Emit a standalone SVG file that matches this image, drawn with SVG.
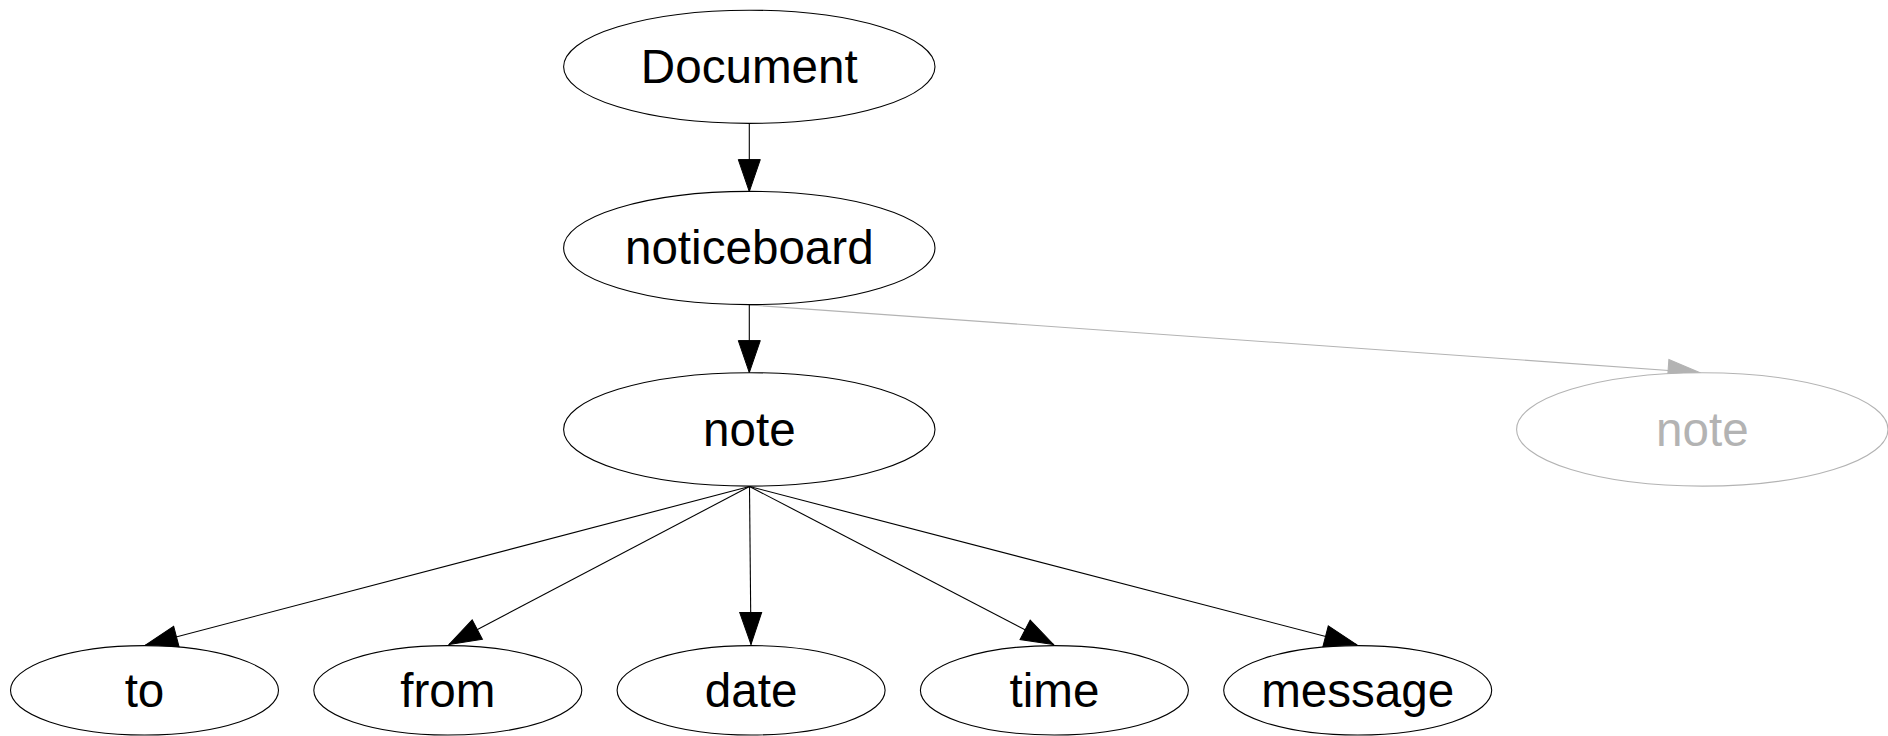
<svg xmlns="http://www.w3.org/2000/svg" width="1888" height="736" viewBox="0 0 1888 736">
<style>
.node ellipse{fill:#fff;stroke:#000;stroke-width:1.1}
.node text{font-family:"Liberation Sans",Arial,sans-serif;font-size:47.6px;text-anchor:middle;fill:#000}
.ghost ellipse{stroke:#b3b3b3}
.ghost text{fill:#b3b3b3}
.edge{fill:none;stroke:#000;stroke-width:1.1}
.edge.g{stroke:#b3b3b3}
</style>
<defs>
<marker id="ah" markerUnits="userSpaceOnUse" markerWidth="34" markerHeight="24" refX="32" refY="11" orient="auto" overflow="visible">
<path d="M0,0 L32,11 L0,22 Z" fill="#000" stroke="#000" stroke-width="1"/>
</marker>
<marker id="ahg" markerUnits="userSpaceOnUse" markerWidth="34" markerHeight="24" refX="32" refY="11" orient="auto" overflow="visible">
<path d="M0,0 L32,11 L0,22 Z" fill="#b3b3b3" stroke="#b3b3b3" stroke-width="1"/>
</marker>
</defs>
<rect width="1888" height="736" fill="#fff"/>
<g id="connectors">
<path class="edge" d="M749.3,123.4 L749.3,191.6" marker-end="url(#ah)"/>
<path class="edge" d="M749.3,304.6 L749.3,372.6" marker-end="url(#ah)"/>
<path class="edge g" d="M750,305 L1700,372.7" marker-end="url(#ahg)"/>
<path class="edge" d="M749.5,486.5 L145.5,645" marker-end="url(#ah)"/>
<path class="edge" d="M749.5,486.5 L449,644.5" marker-end="url(#ah)"/>
<path class="edge" d="M749.5,486.5 L751,644.5" marker-end="url(#ah)"/>
<path class="edge" d="M749.5,486.5 L1053.5,644.5" marker-end="url(#ah)"/>
<path class="edge" d="M749.5,486.5 L1356.5,644.5" marker-end="url(#ah)"/>
</g>
<g id="node-document" class="node"><ellipse cx="749.3" cy="66.8" rx="185.7" ry="56.6"/><text x="749.3" y="83.3">Document</text></g>
<g id="node-noticeboard" class="node"><ellipse cx="749.3" cy="248" rx="185.7" ry="56.6"/><text x="749.3" y="264.3">noticeboard</text></g>
<g id="node-note" class="node"><ellipse cx="749.3" cy="429.4" rx="185.7" ry="56.7"/><text x="749.3" y="445.7">note</text></g>
<g id="node-note-ghost" class="node ghost"><ellipse cx="1702.3" cy="429.4" rx="185.7" ry="56.7"/><text x="1702.3" y="445.7">note</text></g>
<g id="node-to" class="node"><ellipse cx="144.5" cy="690.3" rx="134" ry="44.7"/><text x="144.5" y="706.6">to</text></g>
<g id="node-from" class="node"><ellipse cx="447.8" cy="690.3" rx="134" ry="44.7"/><text x="447.8" y="706.6">from</text></g>
<g id="node-date" class="node"><ellipse cx="751.1" cy="690.3" rx="134" ry="44.7"/><text x="751.1" y="706.6">date</text></g>
<g id="node-time" class="node"><ellipse cx="1054.4" cy="690.3" rx="134" ry="44.7"/><text x="1054.4" y="706.6">time</text></g>
<g id="node-message" class="node"><ellipse cx="1357.7" cy="690.3" rx="134" ry="44.7"/><text x="1357.7" y="706.6">message</text></g>
</svg>
